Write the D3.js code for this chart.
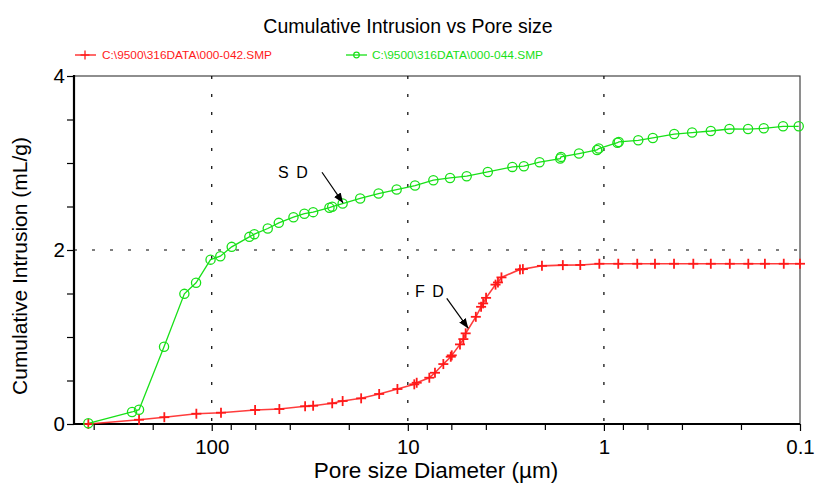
<!DOCTYPE html>
<html><head><meta charset="utf-8">
<script src="https://cdnjs.cloudflare.com/ajax/libs/d3/7.8.5/d3.min.js"></script>
<style>
html,body{margin:0;padding:0;background:#fff;}
svg{display:block;font-family:"Liberation Sans",Arial,sans-serif;}
</style></head>
<body>
<svg id="chart" width="815" height="486"></svg>
<script>
// ---- data ----
const title = "Cumulative Intrusion vs Pore size";
const xLabel = "Pore size Diameter (\u00b5m)";
const yLabel = "Cumulative Intrusion (mL/g)";
const seriesNames = ["C:\\9500\\316DATA\\000-042.SMP", "C:\\9500\\316DATA\\000-044.SMP"];

const redPore = [426, 234.8, 174.5, 119.8, 89.7, 60.1, 45.2, 33.4, 30.4, 24.3, 21.5, 17.3, 14.0, 11.3, 9.27, 9.01, 7.77, 7.27, 6.59, 6.04, 5.97, 5.42, 5.21, 5.07, 4.50, 4.23, 4.13, 3.99, 3.57, 3.47, 3.33, 2.68, 2.59, 2.07, 1.62, 1.32, 1.055, 0.845, 0.676, 0.549, 0.439, 0.350, 0.285, 0.228, 0.1835, 0.151, 0.121, 0.100];
const redVol = [0.0, 0.049, 0.078, 0.118, 0.130, 0.161, 0.172, 0.204, 0.210, 0.238, 0.264, 0.295, 0.345, 0.402, 0.456, 0.474, 0.532, 0.589, 0.689, 0.773, 0.789, 0.915, 0.976, 1.042, 1.232, 1.347, 1.386, 1.450, 1.602, 1.627, 1.685, 1.777, 1.780, 1.818, 1.826, 1.828, 1.842, 1.842, 1.842, 1.842, 1.842, 1.842, 1.842, 1.842, 1.842, 1.842, 1.842, 1.842];

const greenPore = [426, 254.9, 234.8, 175.1, 137.9, 120.2, 101.4, 90.4, 79.1, 64.3, 60.65, 51.8, 45.5, 38.3, 33.7, 30.4, 25.1, 24.3, 21.5, 17.5, 14.1, 11.4, 9.19, 7.41, 6.09, 5.01, 3.91, 2.93, 2.56, 2.13, 1.67, 1.655, 1.34, 1.084, 1.063, 0.853, 0.840, 0.668, 0.563, 0.438, 0.355, 0.285, 0.229, 0.184, 0.153, 0.122, 0.1015];
const greenVol = [0.008, 0.138, 0.164, 0.888, 1.496, 1.623, 1.889, 1.929, 2.036, 2.151, 2.182, 2.247, 2.312, 2.377, 2.417, 2.435, 2.486, 2.498, 2.534, 2.592, 2.649, 2.695, 2.741, 2.802, 2.828, 2.848, 2.897, 2.955, 2.963, 3.009, 3.051, 3.070, 3.109, 3.150, 3.166, 3.233, 3.242, 3.261, 3.288, 3.333, 3.350, 3.368, 3.391, 3.390, 3.399, 3.422, 3.422];

const xDomain = [504, 0.1];
const yDomain = [0, 4];
const xMajorTicks = [100, 10, 1, 0.1];
const xMinorTicks = [400, 200, 80, 60, 40, 20, 8, 6, 4, 2, 0.8, 0.6, 0.4, 0.2];
const xGridValues = [100, 10, 1];
const yMajorTicks = [0, 2, 4];
const yMinorTicks = [0.5, 1, 1.5, 2.5, 3, 3.5];
const yGridValues = [2];

// annotations (data coordinates)
const annotations = [
  {label: "S D", textAt: [45.9, 2.825], from: [27.4, 2.894], to: [21.4, 2.541]},
  {label: "F D", textAt: [9.19, 1.458], from: [6.33, 1.443], to: [4.915, 1.099]}
];

// ---- chart ----
const svg = d3.select("#chart");
const L = 74, R = 800, T = 76, B = 424;
const x = d3.scaleLog().domain(xDomain).range([L, R]);
const y = d3.scaleLinear().domain(yDomain).range([B, T]);
const RED = "#ff1a1a", GREEN = "#18e018";

svg.append("defs").append("marker")
  .attr("id", "arrow").attr("viewBox", "0 0 10 10").attr("refX", 10).attr("refY", 5)
  .attr("markerWidth", 10).attr("markerHeight", 10).attr("markerUnits", "userSpaceOnUse")
  .attr("orient", "auto")
  .append("path").attr("d", "M0,1 L10,5 L0,9 Z").attr("fill", "#000");

// title
svg.append("text").attr("x", 408).attr("y", 33).attr("text-anchor", "middle")
  .attr("font-size", 19.5).attr("fill", "#000").text(title);

// frame
svg.append("rect").attr("x", L).attr("y", T).attr("width", R - L).attr("height", B - T)
  .attr("fill", "none").attr("stroke", "#444").attr("stroke-width", 1.2);

// grid
svg.append("g").selectAll("line").data(xGridValues).join("line")
  .attr("x1", d => x(d)).attr("x2", d => x(d)).attr("y1", T).attr("y2", B)
  .attr("stroke", "#000").attr("stroke-width", 1.2).attr("stroke-dasharray", "3,15");
svg.append("g").selectAll("line").data(yGridValues).join("line")
  .attr("x1", L).attr("x2", R).attr("y1", d => y(d)).attr("y2", d => y(d))
  .attr("stroke", "#000").attr("stroke-width", 1.2).attr("stroke-dasharray", "3,15");

// x axis
const xAxis = svg.append("g").attr("transform", `translate(0,${B})`);
xAxis.call(d3.axisBottom(x).tickValues(xMinorTicks).tickSize(6).tickFormat(""));
xAxis.call(g => g.select(".domain").remove());
const xAxis2 = svg.append("g").attr("transform", `translate(0,${B})`)
  .call(d3.axisBottom(x).tickValues(xMajorTicks).tickSize(7).tickPadding(8)
    .tickFormat(d => d3.format("~g")(d)));
xAxis2.selectAll("text").attr("font-size", 20.5).attr("fill", "#000")
  .attr("font-family", "Liberation Sans, Arial, sans-serif");
xAxis2.select(".domain").remove();
svg.selectAll(".tick line").attr("stroke", "#000").attr("stroke-width", 1.2);
svg.append("line").attr("x1", L - 1).attr("x2", R).attr("y1", B).attr("y2", B)
  .attr("stroke", "#000").attr("stroke-width", 2);

// y axis
const yAxisMinor = svg.append("g").attr("transform", `translate(${L},0)`)
  .call(d3.axisLeft(y).tickValues(yMinorTicks).tickSize(7).tickFormat(""));
yAxisMinor.select(".domain").remove();
const yAxis = svg.append("g").attr("transform", `translate(${L},0)`)
  .call(d3.axisLeft(y).tickValues(yMajorTicks).tickSize(7).tickPadding(2).tickFormat(d3.format("d")));
yAxis.select(".domain").remove();
yAxis.selectAll("text").attr("font-size", 20.5).attr("fill", "#000")
  .attr("font-family", "Liberation Sans, Arial, sans-serif");
svg.selectAll(".tick line").attr("stroke", "#000").attr("stroke-width", 1.2);
svg.append("line").attr("x1", L).attr("x2", L).attr("y1", T - 1).attr("y2", B + 1)
  .attr("stroke", "#000").attr("stroke-width", 2.2);

// axis labels
svg.append("text").attr("x", 436).attr("y", 478).attr("text-anchor", "middle")
  .attr("font-size", 22.5).attr("fill", "#000").text(xLabel);
svg.append("text").attr("transform", "translate(27,266) rotate(-90)").attr("text-anchor", "middle")
  .attr("font-size", 21).attr("fill", "#000").text(yLabel);

// series
const line = d3.line().x(d => x(d[0])).y(d => y(d[1]));
const redData = redPore.map((p, i) => [p, redVol[i]]);
const greenData = greenPore.map((p, i) => [p, greenVol[i]]);

svg.append("path").datum(redData).attr("d", line).attr("fill", "none")
  .attr("stroke", RED).attr("stroke-width", 1.6).attr("stroke-opacity", 0.85);
svg.append("path").datum(greenData).attr("d", line).attr("fill", "none")
  .attr("stroke", GREEN).attr("stroke-width", 1.3);

const plus = (g, cx, cy, s) => {
  g.append("line").attr("x1", cx - s).attr("x2", cx + s).attr("y1", cy).attr("y2", cy);
  g.append("line").attr("x1", cx).attr("x2", cx).attr("y1", cy - s).attr("y2", cy + s);
};
const redMarks = svg.append("g").attr("stroke", RED).attr("stroke-width", 1.8);
redData.forEach(d => plus(redMarks, x(d[0]), y(d[1]), 5));

svg.append("g").selectAll("circle").data(greenData).join("circle")
  .attr("cx", d => x(d[0])).attr("cy", d => y(d[1])).attr("r", 4.6)
  .attr("fill", "none").attr("stroke", GREEN).attr("stroke-width", 1.3);

// annotations
annotations.forEach(a => {
  svg.append("text").attr("x", x(a.textAt[0])).attr("y", y(a.textAt[1]))
    .attr("font-size", 16).attr("fill", "#000").attr("letter-spacing", 1.5).text(a.label);
  svg.append("line").attr("x1", x(a.from[0])).attr("y1", y(a.from[1]))
    .attr("x2", x(a.to[0])).attr("y2", y(a.to[1]))
    .attr("stroke", "#000").attr("stroke-width", 1.2).attr("marker-end", "url(#arrow)");
});

// legend
const legend = svg.append("g");
const lg1 = legend.append("g").attr("stroke", RED).attr("stroke-width", 1.3);
lg1.append("line").attr("x1", 75).attr("x2", 96).attr("y1", 55).attr("y2", 55);
plus(lg1, 85, 55, 4.5);
legend.append("text").attr("x", 102).attr("y", 59).attr("font-size", 11.5)
  .attr("textLength", 170).attr("lengthAdjust", "spacingAndGlyphs")
  .attr("fill", RED).text(seriesNames[0]);
legend.append("line").attr("x1", 346).attr("x2", 367).attr("y1", 55).attr("y2", 55)
  .attr("stroke", GREEN).attr("stroke-width", 1.3);
legend.append("circle").attr("cx", 356.5).attr("cy", 55).attr("r", 2.8)
  .attr("fill", "none").attr("stroke", GREEN).attr("stroke-width", 1.2);
legend.append("text").attr("x", 372).attr("y", 59).attr("font-size", 11.5)
  .attr("textLength", 171).attr("lengthAdjust", "spacingAndGlyphs")
  .attr("fill", GREEN).text(seriesNames[1]);
</script>
</body></html>
